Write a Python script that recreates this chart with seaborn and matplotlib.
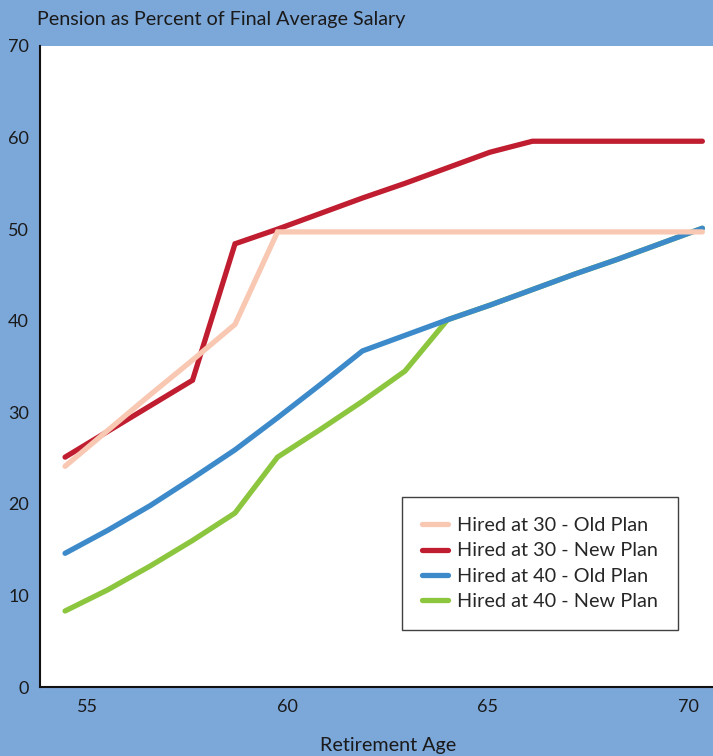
import matplotlib
matplotlib.use("Agg")
import matplotlib.pyplot as plt
import seaborn as sns
import pandas as pd
from matplotlib.lines import Line2D

ages = list(range(55, 71))
hired30_old = [24.1, 28.0, 31.9, 35.7, 39.6, 49.7, 49.7, 49.7, 49.7, 49.7, 49.7, 49.7, 49.7, 49.7, 49.7, 49.7]
hired30_new = [25.1, 27.9, 30.7, 33.5, 48.4, 50.0, 51.7, 53.4, 55.0, 56.7, 58.4, 59.6, 59.6, 59.6, 59.6, 59.6]
hired40_old = [14.6, 17.1, 19.8, 22.8, 25.9, 29.4, 33.0, 36.7, 38.4, 40.1, 41.7, 43.4, 45.1, 46.7, 48.4, 50.1]
hired40_new = [8.3, 10.6, 13.2, 16.0, 19.0, 25.1, 28.1, 31.2, 34.5, 40.1, 41.7, 43.4, 45.1, 46.7, 48.4, 50.1]

series_names = ["Hired at 30 - Old Plan", "Hired at 30 - New Plan",
                "Hired at 40 - Old Plan", "Hired at 40 - New Plan"]
series_values = [hired30_old, hired30_new, hired40_old, hired40_new]
colors = ["#F9C8B3", "#C01E30", "#3D8ACB", "#8CC63F"]

tick_labels = ["55", "60", "65", "70"]
tick_pos = [55.53, 60.24, 64.95, 69.67]
yticks = [0, 10, 20, 30, 40, 50, 60, 70]

rows = []
for name, vals in zip(series_names, series_values):
    for a, v in zip(ages, vals):
        rows.append({"Age": a, "Pct": v, "Series": name})
df = pd.DataFrame(rows)

sns.set_style("white")
plt.rcParams["font.family"] = ["Lato", "DejaVu Sans"]

bg = "#7CA7D9"
fig = plt.figure(figsize=(7.13, 7.56), dpi=100, facecolor=bg)
ax = fig.add_axes([40 / 713, 1 - 687 / 756, 1 - 40 / 713, (687 - 46) / 756])
ax.set_facecolor("white")

draw_order = [3, 2, 1, 0]
for i in draw_order:
    sub = df[df["Series"] == series_names[i]]
    sns.lineplot(data=sub, x="Age", y="Pct", color=colors[i], lw=3.8, ax=ax,
                 solid_capstyle="round", solid_joinstyle="miter", legend=False)

ax.set_xlim(54.41, 70.25)
ax.set_ylim(0, 70)
ax.set_xticks(tick_pos)
ax.set_xticklabels(tick_labels)
ax.set_yticks(yticks)
ax.set_yticklabels([str(v) for v in yticks])
ax.tick_params(axis="both", direction="in", length=9, width=1.2, colors="#333333",
               labelcolor="#1a1a1a", labelsize=13)
ax.tick_params(axis="x", pad=9)
ax.tick_params(axis="y", pad=8)
for s in ["top", "right"]:
    ax.spines[s].set_visible(False)
for s in ["left", "bottom"]:
    ax.spines[s].set_color("#111111")
    ax.spines[s].set_linewidth(1.5)
ax.set_xlabel("")
ax.set_ylabel("")

handles = [Line2D([0], [0], color=c, lw=3.8, solid_capstyle="round") for c in colors]
leg = ax.legend(handles, series_names, loc="lower right",
                bbox_to_anchor=((678 - 40) / 673, (687 - 630) / 641),
                frameon=True, fancybox=False, fontsize=14.3, handlelength=1.35,
                borderpad=1.0, labelspacing=0.42, handletextpad=0.45, borderaxespad=0)
leg.get_frame().set_edgecolor("#111111")
leg.get_frame().set_linewidth(1.0)

fig.text(37 / 713, 1 - 19 / 756, "Pension as Percent of Final Average Salary", fontsize=14.2,
         ha="left", va="center", color="#1a1a1a")
fig.text(388 / 713, 1 - 745 / 756, "Retirement Age", fontsize=14.2, ha="center", va="center", color="#1a1a1a")

fig.savefig("out.png", dpi=100, facecolor=bg)
